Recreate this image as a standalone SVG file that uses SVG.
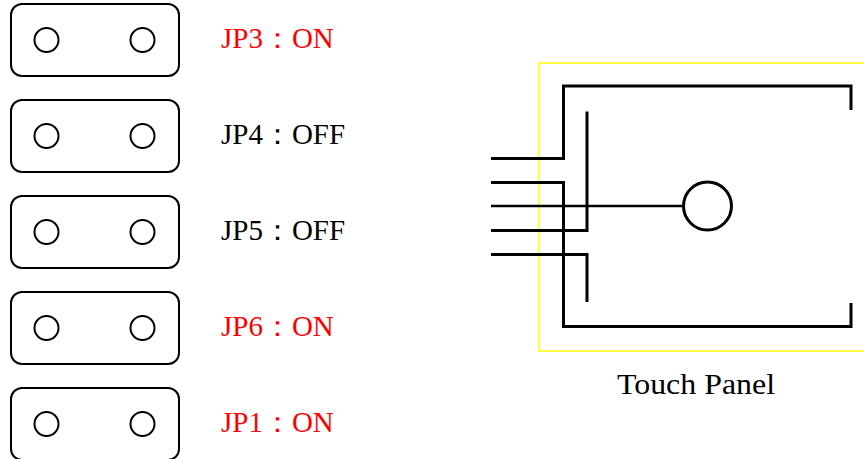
<svg xmlns="http://www.w3.org/2000/svg" width="864" height="459" viewBox="0 0 864 459">
<style>
.box{fill:none;stroke:#000;stroke-width:2}
.pin{fill:none;stroke:#000;stroke-width:2}
.on{fill:#ff0000}
.off{fill:#000}
.wire{fill:none;stroke:#000;stroke-width:3;stroke-linejoin:miter}
</style>
<rect width="864" height="459" fill="#fff"/>
<g id="jp3">
<rect class="box" x="11" y="4" width="168" height="72" rx="11"/>
<circle class="pin" cx="46.5" cy="40" r="12"/>
<circle class="pin" cx="142.5" cy="40" r="12"/>
<text class="on" x="221" y="48" font-family="'Liberation Serif', serif" font-size="29">JP3：ON</text>
</g>
<g id="jp4">
<rect class="box" x="11" y="100" width="168" height="72" rx="11"/>
<circle class="pin" cx="46.5" cy="136" r="12"/>
<circle class="pin" cx="142.5" cy="136" r="12"/>
<text class="off" x="221" y="144" font-family="'Liberation Serif', serif" font-size="29">JP4：OFF</text>
</g>
<g id="jp5">
<rect class="box" x="11" y="196" width="168" height="72" rx="11"/>
<circle class="pin" cx="46.5" cy="232" r="12"/>
<circle class="pin" cx="142.5" cy="232" r="12"/>
<text class="off" x="221" y="240" font-family="'Liberation Serif', serif" font-size="29">JP5：OFF</text>
</g>
<g id="jp6">
<rect class="box" x="11" y="292" width="168" height="72" rx="11"/>
<circle class="pin" cx="46.5" cy="328" r="12"/>
<circle class="pin" cx="142.5" cy="328" r="12"/>
<text class="on" x="221" y="336" font-family="'Liberation Serif', serif" font-size="29">JP6：ON</text>
</g>
<g id="jp1">
<rect class="box" x="11" y="388" width="168" height="72" rx="11"/>
<circle class="pin" cx="46.5" cy="424" r="12"/>
<circle class="pin" cx="142.5" cy="424" r="12"/>
<text class="on" x="221" y="432" font-family="'Liberation Serif', serif" font-size="29">JP1：ON</text>
</g>
<g id="touch-panel">
<rect x="539" y="63" width="330" height="288" fill="none" stroke="#ffff00" stroke-width="1.5"/>
<circle cx="707.5" cy="206" r="24" fill="none" stroke="#000" stroke-width="3"/>
<text class="off" x="617" y="394" font-family="'Liberation Serif', serif" font-size="29" textLength="158" lengthAdjust="spacingAndGlyphs">Touch Panel</text>
</g>
<g id="connectors">
<polyline class="wire" points="491,158.5 563.5,158.5 563.5,86 851,86 851,110"/>
<polyline class="wire" points="491,182.5 563.5,182.5 563.5,326.5 851,326.5 851,303"/>
<line x1="491" y1="206" x2="683.5" y2="206" stroke="#000" stroke-width="2.5"/>
<polyline class="wire" points="491,230.5 587,230.5 587,111.5"/>
<polyline class="wire" points="491,254.5 587,254.5 587,302"/>
</g>
</svg>
